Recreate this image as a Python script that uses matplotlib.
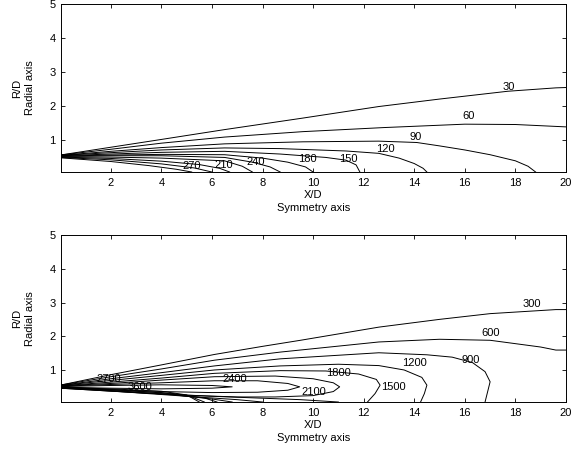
import matplotlib
matplotlib.use("Agg")
from matplotlib import pyplot as plt

plt.rcParams['font.family'] = ['Liberation Sans', 'DejaVu Sans']
plt.rcParams['font.size'] = 8

# ---- top panel: contour lines (x, y) ----
t30_x = [0, 2, 4, 6.5, 9.6, 12.6, 15, 17.7, 19.6, 20]
t30_y = [0.55, 0.78, 1.01, 1.3, 1.64, 1.98, 2.2, 2.43, 2.53, 2.54]
t60_x = [0, 2, 4, 6.5, 9.6, 12.8, 16, 18, 20]
t60_y = [0.55, 0.72, 0.9, 1.08, 1.24, 1.36, 1.46, 1.45, 1.38]
t90_x = [0, 2, 4, 6.5, 9.6, 12.6, 14.1, 15, 16, 17, 18, 18.5, 18.8]
t90_y = [0.54, 0.66, 0.77, 0.88, 0.94, 0.96, 0.92, 0.82, 0.7, 0.56, 0.38, 0.22, 0.05]
t120_x = [0, 2, 4, 6.5, 8.7, 11.3, 12.6, 13.4, 14.0, 14.35, 14.5]
t120_y = [0.54, 0.62, 0.7, 0.76, 0.74, 0.67, 0.6, 0.46, 0.3, 0.16, 0.05]
t150_x = [0, 2, 4, 6.5, 8.7, 10.5, 11.3, 11.7, 11.85]
t150_y = [0.53, 0.58, 0.63, 0.66, 0.58, 0.48, 0.4, 0.26, 0.05]
t180_x = [0, 2, 4, 6.5, 8.0, 9.0, 9.7, 10.0]
t180_y = [0.52, 0.55, 0.57, 0.56, 0.46, 0.34, 0.2, 0.05]
t210_x = [0, 2, 4, 6.5, 7.6, 8.3, 8.7]
t210_y = [0.51, 0.53, 0.53, 0.48, 0.34, 0.2, 0.05]
t240_x = [0, 2, 4, 6.5, 7.2, 7.6]
t240_y = [0.5, 0.49, 0.46, 0.38, 0.22, 0.05]
t270_x = [0, 2, 4, 5.5, 6.3, 6.7]
t270_y = [0.49, 0.45, 0.37, 0.27, 0.16, 0.05]
t300_x = [0, 2, 4, 5.3, 6.0]
t300_y = [0.48, 0.41, 0.29, 0.17, 0.05]
t330_x = [0, 2, 3.5, 4.6, 5.2]
t330_y = [0.47, 0.36, 0.24, 0.13, 0.05]

top_label_text = ['30', '60', '90', '120', '150', '180', '240', '210', '270']
top_label_x = [17.74, 16.14, 14.06, 12.87, 11.4, 9.76, 7.72, 6.46, 5.2]
top_label_y = [2.55, 1.69, 1.07, 0.74, 0.43, 0.43, 0.35, 0.27, 0.24]

# ---- bottom panel ----
b300_x = [0, 2, 4, 6.1, 8, 9.5, 12.6, 15, 17, 19.6, 20]
b300_y = [0.55, 0.86, 1.15, 1.46, 1.7, 1.88, 2.27, 2.5, 2.67, 2.79, 2.79]
b600_x = [0, 2, 4, 6.1, 8.7, 12.6, 15, 17, 19, 19.6, 20]
b600_y = [0.55, 0.8, 1.03, 1.29, 1.53, 1.83, 1.91, 1.88, 1.68, 1.59, 1.59]
b900_x = [0, 2, 4, 6.1, 8.7, 12.6, 14.5, 15.5, 16.3, 16.8, 17.0, 16.9, 16.8]
b900_y = [0.54, 0.74, 0.92, 1.12, 1.33, 1.51, 1.45, 1.38, 1.22, 0.95, 0.65, 0.35, 0.05]
b1200_x = [0, 2, 4, 6.1, 8.7, 11, 12.6, 13.6, 14.3, 14.5, 14.4, 14.25]
b1200_y = [0.54, 0.69, 0.84, 1.0, 1.12, 1.17, 1.13, 1.0, 0.78, 0.55, 0.3, 0.05]
b1500_x = [0, 2, 4, 6.1, 8.7, 10.5, 11.8, 12.5, 12.65, 12.45, 12.15]
b1500_y = [0.53, 0.64, 0.76, 0.9, 0.98, 0.97, 0.88, 0.72, 0.55, 0.3, 0.05]
b1800_x = [0, 2, 4, 6.1, 8.5, 10, 10.8, 11.05, 10.8, 10, 8.5, 7, 5, 3, 1, 0]
b1800_y = [0.53, 0.6, 0.7, 0.8, 0.82, 0.74, 0.62, 0.5, 0.36, 0.24, 0.2, 0.2, 0.25, 0.33, 0.43, 0.47]
b2100_x = [0, 2, 4, 6.1, 7.8, 9, 9.47, 9, 7.8, 6, 4, 2, 0]
b2100_y = [0.52, 0.57, 0.62, 0.68, 0.68, 0.6, 0.5, 0.4, 0.34, 0.33, 0.36, 0.42, 0.48]
b2400_x = [0, 2, 4, 6, 6.8, 6, 4, 2, 0]
b2400_y = [0.51, 0.54, 0.56, 0.54, 0.5, 0.46, 0.44, 0.46, 0.49]
blow1_x = [0, 3, 6, 9.5, 11]
blow1_y = [0.46, 0.33, 0.22, 0.12, 0.05]
blow2_x = [0, 2.5, 5, 7, 8]
blow2_y = [0.46, 0.35, 0.22, 0.12, 0.05]
blow3_x = [0, 2.5, 4.5, 6, 6.8]
blow3_y = [0.47, 0.37, 0.26, 0.14, 0.05]
blow4_x = [0, 2.5, 4.5, 5.7, 6.2]
blow4_y = [0.47, 0.39, 0.3, 0.17, 0.05]
blow5_x = [0, 2, 4, 5.2, 5.7]
blow5_y = [0.48, 0.42, 0.33, 0.2, 0.05]
blow6_x = [0, 2, 4, 5.0, 5.5]
blow6_y = [0.48, 0.44, 0.37, 0.26, 0.05]

bot_label_text = ['300', '600', '900', '1200', '1500', '1800', '2100', '2400', '2700', '3600']
bot_label_x = [18.65, 17.03, 16.24, 14.02, 13.17, 11.0, 10.04, 6.91, 1.9, 3.15]
bot_label_y = [2.95, 2.11, 1.31, 1.22, 0.49, 0.92, 0.36, 0.74, 0.74, 0.49]

x_ticks = [2, 4, 6, 8, 10, 12, 14, 16, 18, 20]
y_ticks = [1, 2, 3, 4, 5]

top_lines = [(t30_x, t30_y), (t60_x, t60_y), (t90_x, t90_y), (t120_x, t120_y),
             (t150_x, t150_y), (t180_x, t180_y), (t210_x, t210_y), (t240_x, t240_y),
             (t270_x, t270_y), (t300_x, t300_y), (t330_x, t330_y)]
bot_lines = [(b300_x, b300_y), (b600_x, b600_y), (b900_x, b900_y), (b1200_x, b1200_y),
             (b1500_x, b1500_y), (b1800_x, b1800_y), (b2100_x, b2100_y), (b2400_x, b2400_y),
             (blow1_x, blow1_y), (blow2_x, blow2_y), (blow3_x, blow3_y),
             (blow4_x, blow4_y), (blow5_x, blow5_y), (blow6_x, blow6_y)]


def draw_panel(ax, lines, texts, tx, ty):
    for xs, ys in lines:
        ax.plot(xs, ys, color='k', lw=0.7, zorder=2)
    # labels sit under the lines, like the old clabel output
    for s, x, y in zip(texts, tx, ty):
        ax.text(x, y, s, ha='center', va='center', fontsize=8, zorder=1)
    ax.set_xlim(0.03, 20)
    ax.set_ylim(0.05, 5)
    ax.set_xticks(x_ticks)
    ax.set_yticks(y_ticks)
    ax.tick_params(direction='in', top=True, right=True, length=3, width=0.6, pad=4)
    for sp in ax.spines.values():
        sp.set_linewidth(0.7)
    ax.set_xlabel('X/D\nSymmetry axis', labelpad=2, linespacing=1.35)
    ax.set_ylabel('R/D\nRadial axis', labelpad=10, linespacing=1.35)


fig = plt.figure(figsize=(5.71, 4.54), dpi=100)
ax1 = fig.add_axes([0.1068, 0.6211, 0.8844, 0.3700])
ax2 = fig.add_axes([0.1068, 0.1145, 0.8844, 0.3678])

draw_panel(ax1, top_lines, top_label_text, top_label_x, top_label_y)
draw_panel(ax2, bot_lines, bot_label_text, bot_label_x, bot_label_y)

fig.savefig('out.png', dpi=100)
